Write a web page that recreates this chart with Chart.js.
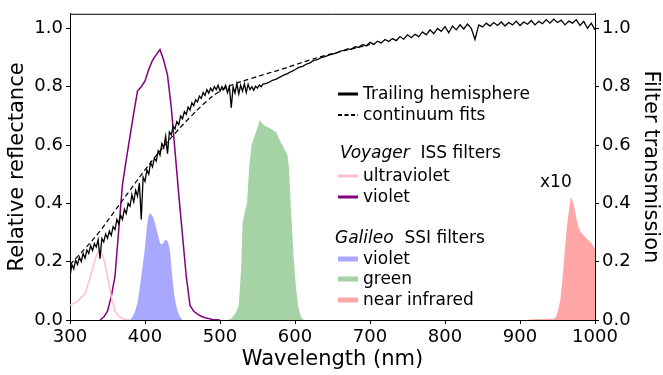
<!DOCTYPE html>
<html>
<head>
<meta charset="utf-8">
<script src="https://cdn.jsdelivr.net/npm/chart.js@4.4.0/dist/chart.umd.min.js"></script>
<style>
    html, body { margin: 0; padding: 0; background: #fff; }
    #box { width: 663px; height: 375px; }
</style>
</head>
<body>
<div id="box"><canvas id="myChart" width="663" height="375"></canvas></div>
<script>
// spectrum, part 1: 300 .. 557.5 nm every 2.5 nm (noisy blue end)
const blueStart = 300, blueStep = 2.5;
const reflBlue = [
    0.15, 0.19, 0.175, 0.205, 0.19, 0.215, 0.20, 0.228, 0.212, 0.24,
    0.228, 0.255, 0.238, 0.262, 0.25, 0.275, 0.21, 0.28, 0.268, 0.295,
    0.28, 0.305, 0.29, 0.32, 0.31, 0.345, 0.33, 0.36, 0.345, 0.38,
    0.365, 0.40, 0.39, 0.43, 0.405, 0.445, 0.425, 0.47, 0.345, 0.49,
    0.475, 0.515, 0.50, 0.54, 0.525, 0.555, 0.545, 0.58, 0.565, 0.605,
    0.59, 0.63, 0.57, 0.645, 0.635, 0.665, 0.655, 0.68, 0.67, 0.70,
    0.69, 0.715, 0.705, 0.73, 0.72, 0.745, 0.735, 0.755, 0.748, 0.768,
    0.76, 0.78, 0.77, 0.79, 0.778, 0.795, 0.785, 0.80, 0.79, 0.805,
    0.785, 0.80, 0.79, 0.805, 0.78, 0.80, 0.728, 0.80, 0.778, 0.81,
    0.775, 0.805, 0.785, 0.81, 0.78, 0.808, 0.79, 0.80, 0.788, 0.802,
    0.795, 0.806, 0.80, 0.81
];
// spectrum, part 2: 560 .. 1000 nm every 5 nm
const redStart = 560, redStep = 5;
const reflRed = [
    0.81, 0.815, 0.822, 0.826, 0.833, 0.84, 0.845, 0.852,
    0.858, 0.866, 0.87, 0.877, 0.882, 0.89, 0.893, 0.90, 0.903, 0.908,
    0.912, 0.915, 0.921, 0.925, 0.93, 0.928, 0.937, 0.935, 0.945, 0.94,
    0.952, 0.945, 0.956, 0.95, 0.962, 0.955, 0.965, 0.958, 0.972, 0.963,
    0.978, 0.968, 0.98, 0.972, 0.988, 0.978, 0.995, 0.982, 1.0, 0.99,
    1.006, 0.985, 1.008, 0.995, 1.012, 0.998, 1.015, 1.0, 0.962, 1.012,
    1.005, 1.018, 1.008, 1.02, 1.01, 1.022, 1.008, 1.02, 1.012, 1.025,
    1.01, 1.022, 1.014, 1.027, 1.012, 1.024, 1.016, 1.03, 1.018, 1.032,
    1.02, 1.028, 1.012, 1.025, 1.018, 1.03, 1.01, 1.024, 1.0, 1.018,
    0.995
];

// continuum fit
const contNm  = [300, 320, 340, 360, 380, 400, 420, 440, 460, 480, 500, 520, 540, 560, 580, 600, 620, 640, 660, 680, 700];
const contVal = [0.19, 0.245, 0.305, 0.375, 0.445, 0.515, 0.58, 0.64, 0.695, 0.745, 0.785, 0.81, 0.827, 0.843, 0.858, 0.875, 0.892, 0.907, 0.92, 0.932, 0.945];

// Voyager ISS filters
const vUvNm  = [300, 310, 320, 325, 330, 335, 340, 345, 350, 355, 360, 365, 370, 375, 380];
const vUvVal = [0.05, 0.065, 0.09, 0.13, 0.175, 0.22, 0.245, 0.21, 0.15, 0.08, 0.03, 0.012, 0.005, 0.002, 0];
const vViNm  = [340, 345, 350, 355, 360, 365, 370, 375, 380, 385, 390, 395, 400, 405, 410, 415, 420, 425, 430, 435, 440, 445, 450, 455, 460, 465, 470, 475, 480, 490, 500];
const vViVal = [0, 0.01, 0.03, 0.08, 0.15, 0.31, 0.465, 0.55, 0.63, 0.71, 0.785, 0.80, 0.82, 0.86, 0.89, 0.91, 0.927, 0.89, 0.84, 0.73, 0.58, 0.43, 0.29, 0.15, 0.05, 0.03, 0.02, 0.013, 0.008, 0.002, 0];

// Galileo SSI filters
const gViNm  = [380, 385, 390, 395, 400, 403, 406, 409, 412, 415, 418, 421, 424, 427, 430, 433, 436, 440, 445, 450];
const gViVal = [0, 0.02, 0.06, 0.15, 0.25, 0.33, 0.365, 0.36, 0.345, 0.315, 0.285, 0.26, 0.262, 0.275, 0.27, 0.24, 0.16, 0.07, 0.02, 0];
const gGrNm  = [510, 515, 520, 525, 528, 530, 533, 536, 539, 542, 546, 550, 553, 556, 560, 565, 570, 575, 580, 585, 590, 592, 595, 598, 601, 604, 608, 612];
const gGrVal = [0, 0.005, 0.02, 0.05, 0.17, 0.33, 0.37, 0.40, 0.53, 0.60, 0.63, 0.66, 0.685, 0.675, 0.665, 0.66, 0.652, 0.644, 0.615, 0.59, 0.565, 0.52, 0.36, 0.22, 0.12, 0.05, 0.01, 0];
const gIrNm  = [910, 920, 930, 940, 945, 948, 951, 954, 957, 960, 963, 966, 968, 970, 973, 976, 980, 985, 990, 995, 1000];
const gIrVal = [0.002, 0.003, 0.003, 0.004, 0.005, 0.012, 0.035, 0.075, 0.15, 0.245, 0.33, 0.39, 0.42, 0.41, 0.38, 0.34, 0.305, 0.29, 0.277, 0.265, 0.245];

const xTicks = [300, 400, 500, 600, 700, 800, 900, 1000];
const yTicks = [0, 0.2, 0.4, 0.6, 0.8, 1.0];

const pts = (xs, ys) => ys.map((v, i) => ({x: xs[i], y: v}));
const specPts = reflBlue.map((v, i) => ({x: blueStart + i * blueStep, y: v}))
    .concat(reflRed.map((v, i) => ({x: redStart + i * redStep, y: v})));

Chart.defaults.font.family = 'DejaVu Sans';
Chart.defaults.color = '#000';

const BLUE = 'rgba(0, 0, 255, 0.34)';
const GREEN = 'rgba(0, 128, 0, 0.35)';
const RED = 'rgba(255, 0, 0, 0.35)';

// top spine + legend text (matplotlib style legend with group headers)
const extras = {
    id: 'extras',
    afterDraw(chart) {
        const ctx = chart.ctx, a = chart.chartArea;
        ctx.save();
        ctx.strokeStyle = '#000';
        ctx.lineWidth = 1;
        ctx.beginPath();
        ctx.moveTo(a.left, a.top + 0.5);
        ctx.lineTo(a.right, a.top + 0.5);
        ctx.stroke();

        const hx = 338, hw = 20, tx = 363;
        const font = '17px "DejaVu Sans"';
        ctx.textBaseline = 'alphabetic';
        ctx.fillStyle = '#000';

        const handle = (y, color, width, dash) => {
            ctx.save();
            ctx.strokeStyle = color;
            ctx.lineWidth = width;
            ctx.setLineDash(dash || []);
            ctx.beginPath();
            ctx.moveTo(hx, y - 5);
            ctx.lineTo(hx + hw, y - 5);
            ctx.stroke();
            ctx.restore();
        };
        const row = (y, label, color, width, dash) => {
            handle(y, color, width, dash);
            ctx.font = font;
            ctx.fillText(label, tx, y);
        };
        const header = (x, y, it, rest) => {
            ctx.font = 'italic ' + font;
            ctx.fillText(it, x, y);
            const w = ctx.measureText(it + '  ').width;
            ctx.font = font;
            ctx.fillText(rest, x + w, y);
        };

        row(99, 'Trailing hemisphere', '#000', 3);
        row(120, 'continuum fits', '#000', 2, [4, 2.5]);
        header(340, 158, 'Voyager', 'ISS filters');
        row(181, 'ultraviolet', 'pink', 3);
        row(202, 'violet', 'purple', 3);
        header(335, 243, 'Galileo', 'SSI filters');
        row(264, 'violet', BLUE, 5);
        row(284, 'green', GREEN, 5);
        row(305, 'near infrared', RED, 5);

        ctx.font = font;
        ctx.fillText('x10', 540, 187);
        ctx.restore();
    }
};

const ctx = document.getElementById('myChart');

new Chart(ctx, {
    type: 'line',
    data: {
        datasets: [
            {data: specPts, borderColor: '#000', borderWidth: 1.3, yAxisID: 'y', order: 1},
            {data: pts(contNm, contVal), borderColor: '#000', borderWidth: 1.2, borderDash: [5, 3], tension: 0.4, yAxisID: 'y', order: 2},
            {data: pts(vUvNm, vUvVal), borderColor: 'pink', borderWidth: 1.5, yAxisID: 'y2', order: 3},
            {data: pts(vViNm, vViVal), borderColor: 'purple', borderWidth: 1.5, yAxisID: 'y2', order: 4},
            {data: pts(gViNm, gViVal), borderWidth: 0, backgroundColor: BLUE, fill: 'origin', tension: 0.3, yAxisID: 'y2', order: 5},
            {data: pts(gGrNm, gGrVal), borderWidth: 0, backgroundColor: GREEN, fill: 'origin', yAxisID: 'y2', order: 6},
            {data: pts(gIrNm, gIrVal), borderWidth: 0, backgroundColor: RED, fill: 'origin', tension: 0.2, yAxisID: 'y2', order: 7}
        ]
    },
    options: {
        responsive: false,
        animation: false,
        events: [],
        elements: {point: {radius: 0}, line: {borderCapStyle: 'butt'}},
        layout: {padding: {top: 8, left: 0, right: 0, bottom: 0}},
        plugins: {
            legend: {display: false},
            tooltip: {enabled: false}
        },
        scales: {
            x: {
                type: 'linear',
                min: 300,
                max: 1000,
                afterFit: s => { s.height = 55; },
                afterBuildTicks: s => { s.ticks = xTicks.map(v => ({value: v})); },
                ticks: {font: {size: 18}, padding: 3, maxRotation: 0, callback: v => String(v)},
                grid: {drawOnChartArea: false, drawTicks: true, tickLength: 4, color: '#000'},
                border: {display: true, color: '#000', width: 1},
                title: {display: true, text: 'Wavelength (nm)', font: {size: 21}, padding: {top: 0, bottom: 3}}
            },
            y: {
                position: 'left',
                min: 0,
                max: 1.05,
                afterFit: s => { s.width = 70; },
                afterBuildTicks: s => { s.ticks = yTicks.map(v => ({value: v})); },
                ticks: {font: {size: 18}, padding: 3, callback: v => v.toFixed(1)},
                grid: {drawOnChartArea: false, drawTicks: true, tickLength: 4, color: '#000'},
                border: {display: true, color: '#000', width: 1},
                title: {display: true, text: 'Relative reflectance', font: {size: 21}, padding: {top: 5, bottom: 0}}
            },
            y2: {
                position: 'right',
                min: 0,
                max: 1.05,
                afterFit: s => { s.width = 68; },
                afterBuildTicks: s => { s.ticks = yTicks.map(v => ({value: v})); },
                ticks: {font: {size: 18}, padding: 3, callback: v => v.toFixed(1)},
                grid: {drawOnChartArea: false, drawTicks: true, tickLength: 4, color: '#000'},
                border: {display: true, color: '#000', width: 1},
                title: {display: true, text: 'Filter transmission', font: {size: 21}, padding: {top: 0, bottom: 0}}
            }
        }
    },
    plugins: [extras]
});
</script>
</body>
</html>
